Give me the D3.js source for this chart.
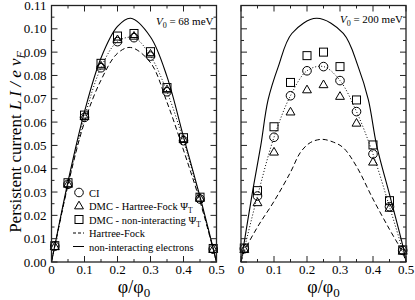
<!DOCTYPE html>
<html lang="en">
<head>
<meta charset="UTF-8">
<title>Persistent current</title>
<script src="https://d3js.org/d3.v7.min.js"></script>
<style>
  body { margin: 0; background: #fff; }
  svg { display: block; }
  text { font-family: "Liberation Serif", "Times New Roman", Times, serif; fill: #000; }
</style>
</head>
<body>
<svg id="chart" width="415" height="300"></svg>
<script>
// flux values where the markers sit
const phi = [0.01, 0.05, 0.1, 0.15, 0.2, 0.25, 0.3, 0.35, 0.4, 0.45, 0.49];

// V0 = 68 meV
const ci68  = [0.0068, 0.0333, 0.0620, 0.0833, 0.0945, 0.0962, 0.0883, 0.0730, 0.0520, 0.0270, 0.0055];
const hfT68 = [0.0068, 0.0335, 0.0625, 0.0842, 0.0955, 0.0970, 0.0893, 0.0740, 0.0527, 0.0275, 0.0056];
const niT68 = [0.0070, 0.0340, 0.0630, 0.0852, 0.0969, 0.0980, 0.0902, 0.0748, 0.0533, 0.0278, 0.0058];

// V0 = 200 meV
const ci200  = [0.0057, 0.0283, 0.0535, 0.0713, 0.0820, 0.0838, 0.0778, 0.0645, 0.0463, 0.0237, 0.0050];
const hfT200 = [0.0055, 0.0256, 0.0473, 0.0645, 0.0740, 0.0762, 0.0712, 0.0597, 0.0430, 0.0232, 0.0048];
const niT200 = [0.0060, 0.0306, 0.0580, 0.0770, 0.0885, 0.0900, 0.0838, 0.0695, 0.0502, 0.0263, 0.0052];

// curves
const dotX = [0, 0.01, 0.05, 0.1, 0.15, 0.2, 0.25, 0.3, 0.35, 0.4, 0.45, 0.49, 0.5];
const dot68Y  = [0, 0.0068, 0.0333, 0.0620, 0.0833, 0.0945, 0.0962, 0.0883, 0.0730, 0.0520, 0.0270, 0.0055, 0];
const dot200Y = [0, 0.0057, 0.0283, 0.0535, 0.0713, 0.0820, 0.0838, 0.0778, 0.0645, 0.0463, 0.0237, 0.0050, 0];

const hf68X = [0, 0.01, 0.05, 0.1, 0.15, 0.2, 0.24, 0.3, 0.35, 0.4, 0.45, 0.49, 0.5];
const hf68Y = [0, 0.0067, 0.0330, 0.0600, 0.0780, 0.0895, 0.0920, 0.0855, 0.0685, 0.0480, 0.0260, 0.0055, 0];
const ni68X = [0, 0.01, 0.05, 0.1, 0.15, 0.2, 0.24, 0.3, 0.35, 0.4, 0.45, 0.49, 0.5];
const ni68Y = [0, 0.0070, 0.0345, 0.0645, 0.0875, 0.1010, 0.1045, 0.0965, 0.0795, 0.0537, 0.0280, 0.0058, 0];

const hf200X = [0, 0.01, 0.05, 0.1, 0.15, 0.18, 0.21, 0.245, 0.28, 0.31, 0.35, 0.4, 0.45, 0.49, 0.5];
const hf200Y = [0, 0.0045, 0.0150, 0.0260, 0.0385, 0.0470, 0.0512, 0.0526, 0.0514, 0.0490, 0.0410, 0.0270, 0.0140, 0.0040, 0];
const ni200X = [0, 0.036, 0.06, 0.082, 0.113, 0.154, 0.229, 0.31, 0.355, 0.386, 0.411, 0.45, 0.492, 0.5];
const ni200Y = [0, 0.0310, 0.0500, 0.0695, 0.0838, 0.0980, 0.1045, 0.0980, 0.0838, 0.0695, 0.0500, 0.0290, 0.0059, 0];

const yTicks = [0, 0.01, 0.02, 0.03, 0.04, 0.05, 0.06, 0.07, 0.08, 0.09, 0.10, 0.11];
const xTicks = [0, 0.1, 0.2, 0.3, 0.4, 0.5];
const legendLabels = ["CI", "DMC - Hartree-Fock \u03A8", "DMC - non-interacting \u03A8", "Hartree-Fock", "non-interacting electrons"];

const svg = d3.select("#chart");
const plotTop = 5.5, plotBottom = 262;

const yScale = d3.scaleLinear().domain([0, 0.11]).range([plotBottom, plotTop]);

function zip(xs, ys) { return xs.map((x, i) => [x, ys[i]]); }

function drawPanel(left, right, cfg) {
  const x = d3.scaleLinear().domain([0, 0.5]).range([left, right]);
  const g = svg.append("g");

  const line = d3.line().x(d => x(d[0])).y(d => yScale(d[1])).curve(d3.curveCatmullRom.alpha(0.5));

  g.append("path").datum(zip(cfg.niX, cfg.niY)).attr("d", line)
    .attr("fill", "none").attr("stroke", "#000").attr("stroke-width", 1.1);
  g.append("path").datum(zip(cfg.hfX, cfg.hfY)).attr("d", line)
    .attr("fill", "none").attr("stroke", "#000").attr("stroke-width", 1)
    .attr("stroke-dasharray", "5,3");
  g.append("path").datum(zip(dotX, cfg.dotY)).attr("d", line)
    .attr("fill", "none").attr("stroke", "#000").attr("stroke-width", 1)
    .attr("stroke-dasharray", "1,2");

  // markers
  g.selectAll(".sq").data(zip(phi, cfg.ni)).join("rect")
    .attr("x", d => x(d[0]) - 4).attr("y", d => yScale(d[1]) - 4)
    .attr("width", 8).attr("height", 8)
    .attr("fill", "none").attr("stroke", "#000").attr("stroke-width", 1);
  g.selectAll(".tri").data(zip(phi, cfg.hf)).join("path")
    .attr("d", d3.symbol().type(d3.symbolTriangle).size(34))
    .attr("transform", d => `translate(${x(d[0])},${yScale(d[1]) + 0.8})`)
    .attr("fill", "none").attr("stroke", "#000").attr("stroke-width", 1);
  g.selectAll(".circ").data(zip(phi, cfg.ci)).join("circle")
    .attr("cx", d => x(d[0])).attr("cy", d => yScale(d[1])).attr("r", 4.3)
    .attr("fill", "none").attr("stroke", "#000").attr("stroke-width", 1);

  // frame and ticks
  const ax = svg.append("g").attr("stroke", "#222").attr("stroke-width", 1);
  const minorX = d3.range(0, 0.5001, 0.05);
  const minorY = d3.range(0, 0.11001, 0.005);
  minorX.forEach((v, i) => {
    const len = i % 2 === 0 ? 6 : 3;
    ax.append("line").attr("x1", x(v)).attr("x2", x(v)).attr("y1", plotBottom).attr("y2", plotBottom - len);
    ax.append("line").attr("x1", x(v)).attr("x2", x(v)).attr("y1", plotTop).attr("y2", plotTop + len);
  });
  minorY.forEach((v, i) => {
    const len = i % 2 === 0 ? 6 : 3;
    ax.append("line").attr("x1", left).attr("x2", left + len).attr("y1", yScale(v)).attr("y2", yScale(v));
    ax.append("line").attr("x1", right).attr("x2", right - len).attr("y1", yScale(v)).attr("y2", yScale(v));
  });
  ax.append("rect").attr("x", left).attr("y", plotTop).attr("width", right - left).attr("height", plotBottom - plotTop)
    .attr("fill", "none").attr("stroke-width", 1.3);

  svg.append("g").selectAll("text").data(xTicks).join("text")
    .attr("x", d => x(d)).attr("y", plotBottom + 12).attr("text-anchor", "middle")
    .attr("font-size", 13).text(d => d === 0 ? "0" : d3.format(".1f")(d));

  if (cfg.yLabels) {
    svg.append("g").selectAll("text").data(yTicks).join("text")
      .attr("x", left - 5).attr("y", d => yScale(d) + 4.5).attr("text-anchor", "end")
      .attr("font-size", 13).text(d => d3.format(".2f")(d));
  }

  const xl = svg.append("text").attr("x", (left + right) / 2).attr("y", 293)
    .attr("text-anchor", "middle").attr("font-size", 18);
  xl.append("tspan").text("\u03C6/\u03C6");
  xl.append("tspan").attr("dy", 4).attr("font-size", 13).text("0");

  const vt = svg.append("text").attr("x", right - 3).attr("y", cfg.vy)
    .attr("text-anchor", "end").attr("font-size", 11);
  vt.append("tspan").attr("font-style", "italic").text("V");
  vt.append("tspan").attr("dy", 3).attr("font-size", 8).text("0");
  vt.append("tspan").attr("dy", -3).text(" = " + cfg.v0 + " meV");

  return x;
}

drawPanel(51.5, 216.5, { ci: ci68, hf: hfT68, ni: niT68, dotY: dot68Y,
  hfX: hf68X, hfY: hf68Y, niX: ni68X, niY: ni68Y, yLabels: true, v0: "68", vy: 25 });
drawPanel(241, 406, { ci: ci200, hf: hfT200, ni: niT200, dotY: dot200Y,
  hfX: hf200X, hfY: hf200Y, niX: ni200X, niY: ni200Y, yLabels: false, v0: "200", vy: 23 });

// y axis title
const yt = svg.append("text").attr("transform", "translate(21,142) rotate(-90)")
  .attr("text-anchor", "middle").attr("font-size", 17);
yt.append("tspan").text("Persistent current ");
yt.append("tspan").attr("font-style", "italic").text("L I / e v");
yt.append("tspan").attr("font-style", "italic").attr("font-size", 12).attr("dy", 4).text("F");

// legend
const leg = svg.append("g");
const lx = 79, rows = [192.5, 205.5, 219.5, 233, 246.5];
leg.append("circle").attr("cx", lx).attr("cy", rows[0]).attr("r", 4.3)
  .attr("fill", "none").attr("stroke", "#000");
leg.append("path").attr("d", d3.symbol().type(d3.symbolTriangle).size(34))
  .attr("transform", `translate(${lx},${rows[1] + 0.8})`).attr("fill", "none").attr("stroke", "#000");
leg.append("rect").attr("x", lx - 4).attr("y", rows[2] - 4).attr("width", 8).attr("height", 8)
  .attr("fill", "none").attr("stroke", "#000");
leg.append("line").attr("x1", lx - 6).attr("x2", lx + 5).attr("y1", rows[3]).attr("y2", rows[3])
  .attr("stroke", "#000").attr("stroke-dasharray", "3,2");
leg.append("line").attr("x1", lx - 6).attr("x2", lx + 5).attr("y1", rows[4]).attr("y2", rows[4])
  .attr("stroke", "#000");
legendLabels.forEach((s, i) => {
  const t = leg.append("text").attr("x", 89).attr("y", rows[i] + 4).attr("font-size", 10.5);
  t.append("tspan").text(s);
  if (i === 1 || i === 2) t.append("tspan").attr("dy", 3).attr("font-size", 7.5).text("T");
});
</script>
</body>
</html>
